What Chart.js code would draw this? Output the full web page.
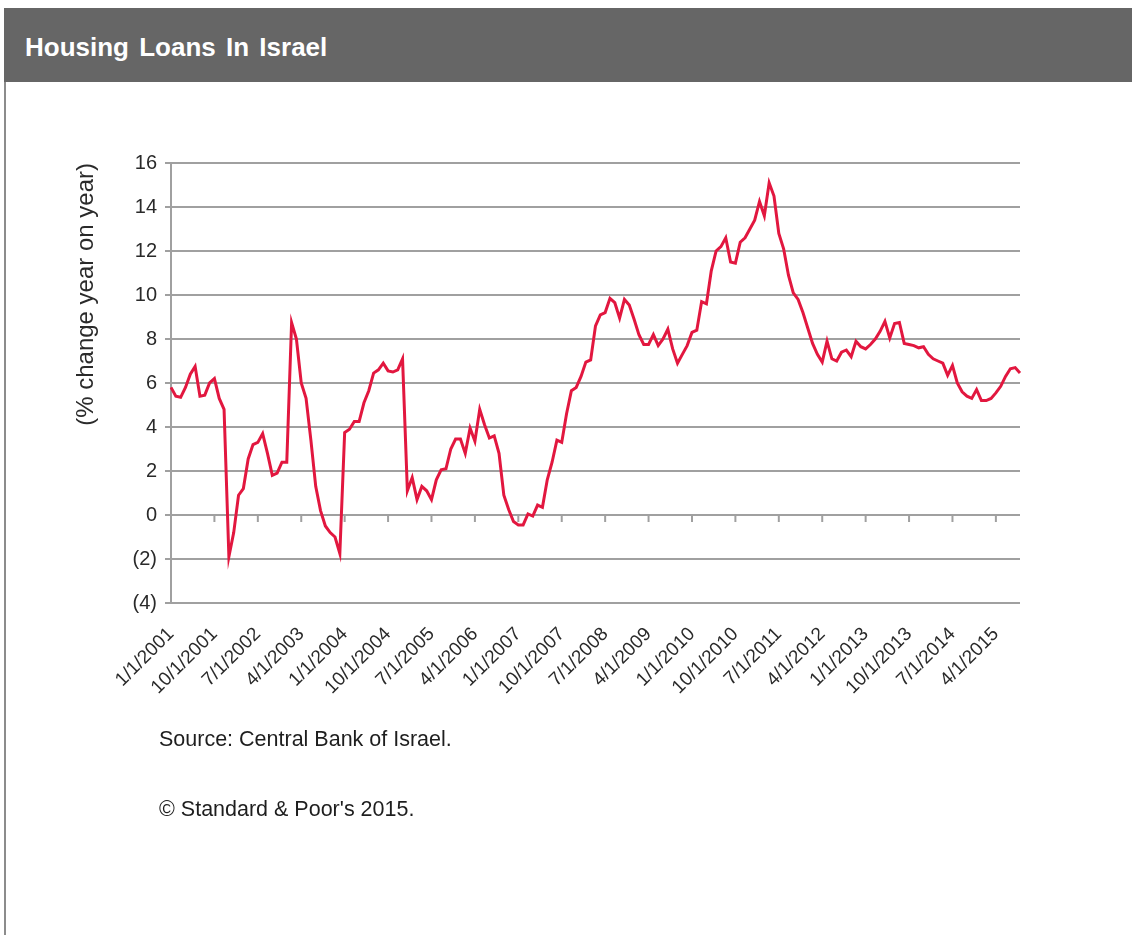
<!DOCTYPE html>
<html>
<head>
<meta charset="utf-8">
<title>Housing Loans In Israel</title>
<script src="https://cdn.jsdelivr.net/npm/chart.js@4.4.1/dist/chart.umd.min.js"></script>
<style>
  html, body { margin: 0; padding: 0; background: #fff; }
  body { width: 1132px; height: 935px; position: relative; overflow: hidden; font-family: "Liberation Sans", Arial, sans-serif; }
  #header { position: absolute; left: 4px; top: 8px; width: 1128px; height: 74px; background: #666666; }
  #header span { position: absolute; left: 21px; top: 26px; color: #fff; font-weight: bold; font-size: 26px; line-height: 1; word-spacing: 3px; }
  #frame { position: absolute; left: 4px; top: 82px; width: 2px; height: 853px; background: #8c8c8c; }
  .note { position: absolute; left: 159px; font-size: 21.5px; line-height: 1; color: #1e1e1e; }
  #chartBox { position: absolute; left: 0; top: 0; }
</style>
</head>
<body>
<div id="header"><span>Housing Loans In Israel</span></div>
<div id="frame"></div>
<canvas id="chartBox" width="1132" height="935"></canvas>
<div class="note" style="top:729px">Source: Central Bank of Israel.</div>
<div class="note" style="top:799px">© Standard &amp; Poor's 2015.</div>
<script>
// monthly, 1/1/2001 .. 9/1/2015
const categories = [];
for (let i = 0; i < 177; i++) {
  categories.push((i % 12 + 1) + '/1/' + (2001 + Math.floor(i / 12)));
}

const tickLabels = ['1/1/2001', '10/1/2001', '7/1/2002', '4/1/2003', '1/1/2004', '10/1/2004',
  '7/1/2005', '4/1/2006', '1/1/2007', '10/1/2007', '7/1/2008', '4/1/2009', '1/1/2010',
  '10/1/2010', '7/1/2011', '4/1/2012', '1/1/2013', '10/1/2013', '7/1/2014', '4/1/2015'];

// % change year on year
const loanGrowth = [
  5.8, 5.4, 5.35, 5.8, 6.4, 6.75, 5.4, 5.45, 6.0, 6.2, 5.3, 4.8,
  -1.9, -0.8, 0.9, 1.2, 2.55, 3.2, 3.3, 3.7, 2.8, 1.8, 1.9, 2.4,
  2.4, 8.75, 8.0, 6.0, 5.3, 3.4, 1.3, 0.2, -0.5, -0.8, -1.0, -1.75,
  3.75, 3.9, 4.25, 4.25, 5.1, 5.65, 6.45, 6.6, 6.9, 6.55, 6.5, 6.6,
  7.1, 1.1, 1.7, 0.7, 1.3, 1.1, 0.7, 1.6, 2.05, 2.1, 3.0, 3.45,
  3.45, 2.8, 3.95, 3.35, 4.8, 4.1, 3.5, 3.6, 2.8, 0.9, 0.25, -0.3,
  -0.45, -0.45, 0.05, -0.05, 0.45, 0.35, 1.6, 2.4, 3.4, 3.3, 4.6, 5.65,
  5.8, 6.3, 6.95, 7.05, 8.6, 9.1, 9.2, 9.85, 9.65, 8.95, 9.8, 9.55,
  8.9, 8.2, 7.75, 7.75, 8.2, 7.7, 8.0, 8.45, 7.55, 6.9, 7.3, 7.7,
  8.3, 8.4, 9.7, 9.6, 11.1, 12.0, 12.2, 12.6, 11.5, 11.45, 12.4, 12.6,
  13.0, 13.4, 14.25, 13.6, 15.1, 14.5, 12.8, 12.1, 10.9, 10.1, 9.8, 9.2,
  8.5, 7.8, 7.3, 6.95, 7.9, 7.1, 7.0, 7.4, 7.5, 7.2, 7.9, 7.65,
  7.55, 7.75, 8.0, 8.35, 8.8, 8.05, 8.7, 8.75, 7.8, 7.75, 7.7, 7.6,
  7.65, 7.3, 7.1, 7.0, 6.9, 6.35, 6.8, 6.0, 5.6, 5.4, 5.3, 5.7,
  5.2, 5.2, 5.3, 5.55, 5.85, 6.3, 6.65, 6.7, 6.45
];

const yTicks = [-4, -2, 0, 2, 4, 6, 8, 10, 12, 14, 16];

const gridGray = '#a0a0a0';

// small tick marks hanging from the zero line, as in Excel
const zeroTicks = {
  id: 'zeroTicks',
  beforeDatasetsDraw(chart) {
    const x = chart.scales.x, y = chart.scales.y;
    const y0 = y.getPixelForValue(0);
    const ctx = chart.ctx;
    ctx.save();
    ctx.strokeStyle = gridGray;
    ctx.lineWidth = 2;
    tickLabels.forEach(lbl => {
      const px = x.getPixelForValue(categories.indexOf(lbl));
      ctx.beginPath();
      ctx.moveTo(px, y0);
      ctx.lineTo(px, y0 + 7);
      ctx.stroke();
    });
    ctx.restore();
  }
};

new Chart(document.getElementById('chartBox'), {
  type: 'line',
  data: {
    labels: categories,
    datasets: [{
      data: loanGrowth,
      borderColor: '#e2173f',
      borderWidth: 3,
      pointRadius: 0,
      tension: 0,
      fill: false
    }]
  },
  options: {
    responsive: false,
    animation: false,
    devicePixelRatio: 1,
    layout: { padding: { left: 72, top: 163, right: 112, bottom: 0 } },
    plugins: {
      legend: { display: false },
      tooltip: { enabled: false }
    },
    scales: {
      x: {
        type: 'category',
        offset: false,
        grid: { display: false },
        border: { display: false },
        afterFit(scale) { scale.height = 332; },
        ticks: {
          autoSkip: false,
          maxRotation: 45,
          minRotation: 45,
          padding: 12,
          color: '#2a2a2a',
          font: { family: '"Liberation Sans", Arial, sans-serif', size: 19 },
          callback(val, i) {
            const c = categories[i];
            return tickLabels.includes(c) ? c : null;
          }
        }
      },
      y: {
        min: -4,
        max: 16,
        afterFit(scale) { scale.width = 99; },
        afterBuildTicks(scale) { scale.ticks = yTicks.map(v => ({ value: v })); },
        grid: { color: gridGray, lineWidth: 2, tickLength: 6 },
        border: { display: true, color: gridGray, width: 2 },
        title: {
          display: true,
          text: '(% change year on year)',
          align: 'end',
          color: '#2a2a2a',
          padding: 0,
          font: { family: '"Liberation Sans", Arial, sans-serif', size: 24 }
        },
        ticks: {
          padding: 8,
          color: '#2a2a2a',
          font: { family: '"Liberation Sans", Arial, sans-serif', size: 20 },
          callback(v) { return v < 0 ? '(' + (-v) + ')' : String(v); }
        }
      }
    }
  },
  plugins: [zeroTicks]
});
</script>
</body>
</html>
